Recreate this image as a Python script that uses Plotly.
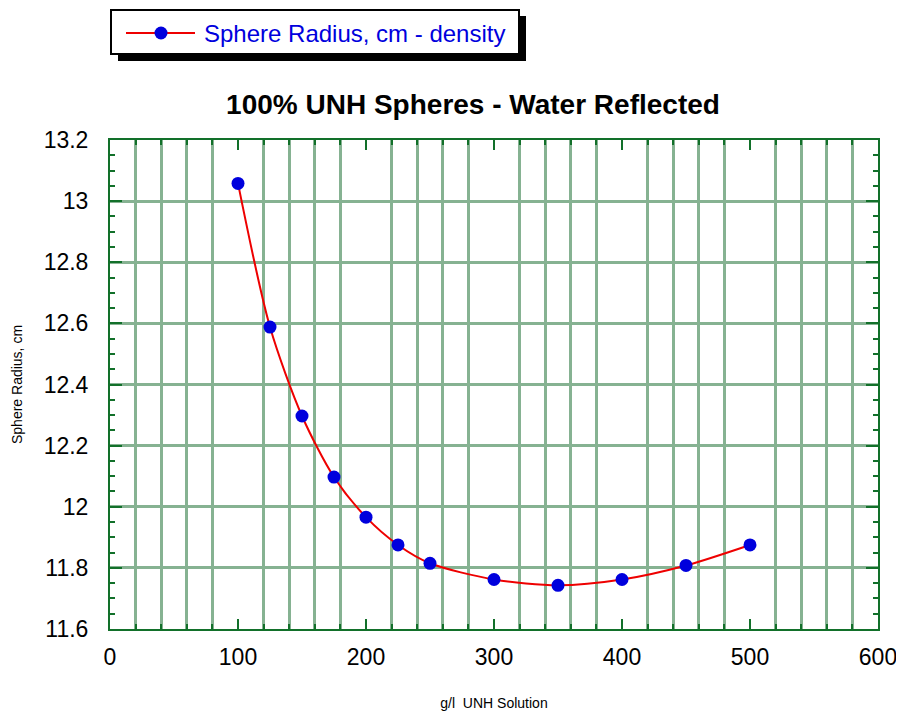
import plotly.graph_objects as go

density = [100, 125, 150, 175, 200, 225, 250, 300, 350, 400, 450, 500]
radius = [13.058, 12.588, 12.297, 12.097, 11.966, 11.875, 11.815, 11.762, 11.743, 11.762, 11.808, 11.875]

title = "100% UNH Spheres - Water Reflected"
series_name = "Sphere Radius, cm - density"
x_title = "g/l  UNH Solution"
y_title = "Sphere Radius, cm"

grid_col = "#86b292"
axis_col = "#12702a"
FONT = "Arial, Liberation Sans, sans-serif"

fig = go.Figure()
fig.add_trace(go.Scatter(
    x=density, y=radius, mode="lines+markers", name=series_name,
    line=dict(color="#ee0000", width=2, shape="spline", smoothing=0.8),
    marker=dict(color="#0000dd", size=13),
    showlegend=False,
))

axis_common = dict(
    showline=True, linecolor=axis_col, linewidth=2, mirror="allticks",
    ticks="inside", tickcolor=axis_col, tickwidth=2,
    zeroline=False, automargin=False,
    tickfont=dict(family=FONT, size=23, color="black"),
)

fig.update_xaxes(
    range=[0, 600], dtick=100, tick0=0, ticklen=10,
    showgrid=False, ticklabelstandoff=6,
    minor=dict(dtick=20, tick0=0, ticks="inside", ticklen=5, tickcolor=axis_col, tickwidth=2,
               showgrid=True, gridcolor=grid_col, gridwidth=2.5),
    title=dict(text=x_title, font=dict(family=FONT, size=14, color="black"), standoff=30),
    **axis_common,
)
fig.update_yaxes(
    range=[11.6, 13.2], dtick=0.2, tick0=11.6, ticklen=12,
    showgrid=True, gridcolor=grid_col, gridwidth=2.5, ticklabelstandoff=15,
    minor=dict(dtick=0.05, tick0=11.6, ticks="inside", ticklen=5, tickcolor=axis_col, tickwidth=2,
               showgrid=False),
    title=dict(text=y_title, font=dict(family=FONT, size=14, color="black"), standoff=18),
    **axis_common,
)

# page body adds an 8px offset; compensate so the figure lands at window pixels
OFF = 8
W, H = 904 - OFF, 719 - OFF
ml, mr, mt, mb = 110 - OFF, 26, 140 - OFF, 90
pw, ph = W - ml - mr, H - mt - mb

def px(x):
    return (x - OFF - ml) / pw

def py(y):
    return 1 - (y - OFF - mt) / ph

shapes = [
    dict(type="rect", xref="paper", yref="paper", x0=px(118), x1=px(526), y0=py(61), y1=py(16),
         fillcolor="black", line=dict(width=0), layer="above"),
    dict(type="rect", xref="paper", yref="paper", x0=px(111), x1=px(519), y0=py(54), y1=py(10),
         fillcolor="white", line=dict(color="black", width=2), layer="above"),
    dict(type="line", xref="paper", yref="paper", x0=px(126), x1=px(195), y0=py(33), y1=py(33),
         line=dict(color="#ee0000", width=2), layer="above"),
    dict(type="circle", xref="paper", yref="paper", x0=px(154.5), x1=px(167.5), y0=py(39.5), y1=py(26.5),
         fillcolor="#0000dd", line=dict(width=0), layer="above"),
]

annotations = [
    dict(text=series_name, xref="paper", yref="paper", x=px(202), y=py(33), xanchor="left", yanchor="middle",
         showarrow=False, font=dict(family=FONT, size=24, color="#0000dd")),
]

fig.update_layout(
    width=W, height=H,
    margin=dict(l=ml, r=mr, t=mt, b=mb, autoexpand=False),
    paper_bgcolor="white", plot_bgcolor="white",
    title=dict(text="<b>" + title + "</b>", x=(0.5 * (228 + 718) - OFF) / W, xanchor="center",
               y=1 - (104 - OFF) / H, yanchor="middle",
               font=dict(family=FONT, size=28, color="black")),
    shapes=shapes, annotations=annotations,
)

fig.write_html("out.html")
